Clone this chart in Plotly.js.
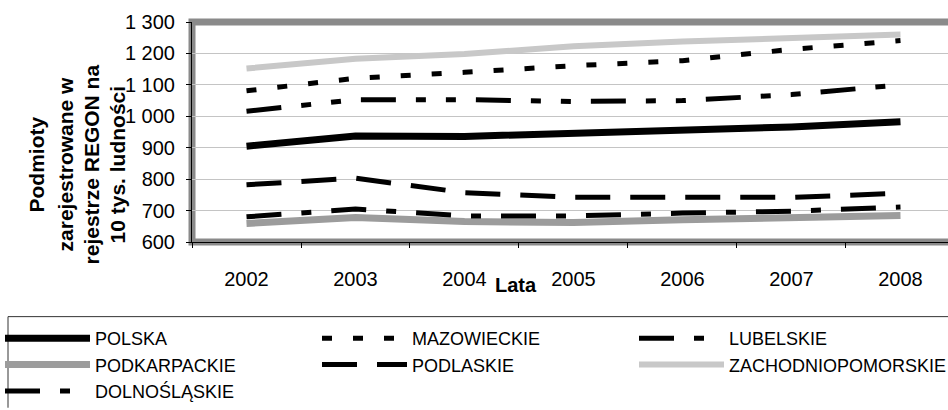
<!DOCTYPE html>
<html>
<head>
<meta charset="utf-8">
<script src="https://cdn.plot.ly/plotly-3.0.1.min.js"></script>
<style>
  html, body { margin: 0; padding: 0; background: #fff; }
  #chart { width: 948px; height: 410px; }
</style>
</head>
<body>
<div id="chart"></div>
<script>
const years = ['2002', '2003', '2004', '2005', '2006', '2007', '2008'];
const polska = [905, 937, 936, 946, 952, 966, 983];
const mazowieckie = [1081, 1121, 1140, 1161, 1177, 1213, 1241];
const lubelskie = [1016, 1053, 1053, 1047, 1050, 1069, 1100];
const podkarpackie = [659, 678, 665, 662, 671, 676, 684];
const podlaskie = [782, 803, 757, 742, 742, 742, 755];
const zachodniopomorskie = [1152, 1183, 1198, 1223, 1238, 1250, 1260];
const dolnoslaskie = [680, 705, 683, 683, 692, 698, 711];

const seriesNames = ['POLSKA', 'MAZOWIECKIE', 'LUBELSKIE', 'PODKARPACKIE', 'PODLASKIE', 'ZACHODNIOPOMORSKIE', 'DOLNOŚLĄSKIE'];
const seriesValues = [polska, mazowieckie, lubelskie, podkarpackie, podlaskie, zachodniopomorskie, dolnoslaskie];
const yTitleLines = ['Podmioty', 'zarejestrowane w', 'rejestrze REGON na', '10 tys. ludności'];
const xTitle = 'Lata';

const seriesLines = [
  {color: '#000000', width: 7, dash: 'solid'},
  {color: '#000000', width: 5, dash: '10px,21px'},
  {color: '#000000', width: 5, dash: '35px,20px,10px,20px,10px,20px'},
  {color: '#9c9c9c', width: 7, dash: 'solid'},
  {color: '#000000', width: 5, dash: '35px,20px'},
  {color: '#c8c8c8', width: 6, dash: 'solid'},
  {color: '#000000', width: 5, dash: '35px,20px,10px,20px'}
];

const traces = seriesNames.map((name, i) => ({
  type: 'scatter',
  mode: 'lines',
  name: name,
  x: years,
  y: seriesValues[i],
  line: seriesLines[i],
  hoverinfo: 'skip'
}));

const FONT = 'Liberation Sans, Arial, sans-serif';
const W = 948, H = 410;
const L = 192, T = 22, B = 249;
const plotW = W - L, plotH = B - T;
const px2x = p => (p - L) / plotW;
const px2y = p => (B - p) / plotH;

const yTitleX = [36, 65, 91, 117];
const annotations = yTitleLines.map((t, i) => ({
  text: '<b>' + t + '</b>',
  xref: 'paper', yref: 'paper', x: px2x(yTitleX[i]), y: px2y(169),
  xanchor: 'center', yanchor: 'middle', textangle: -90, showarrow: false,
  font: {family: FONT, size: 21, color: '#000000'}
}));
annotations.push({
  text: '<b>' + xTitle + '</b>', xref: 'paper', yref: 'paper', x: px2x(516), y: px2y(293),
  xanchor: 'center', yanchor: 'middle', showarrow: false,
  font: {family: FONT, size: 20, color: '#000000'}
});

const layout = {
  width: W,
  height: H,
  margin: {l: L, r: 0, t: T, b: H - B, pad: 0},
  paper_bgcolor: '#ffffff',
  plot_bgcolor: '#ffffff',
  separators: ', ',
  font: {family: FONT, color: '#000000', size: 20},
  showlegend: true,
  xaxis: {
    type: 'category',
    range: [-0.5, 6.436],
    showgrid: false,
    zeroline: false,
    showline: true,
    linecolor: '#000000',
    linewidth: 1,
    ticks: 'outside',
    tickson: 'boundaries',
    ticklen: 5,
    tickcolor: '#000000',
    tickfont: {family: FONT, size: 20, color: '#000000'},
    ticklabelstandoff: 19,
    fixedrange: true
  },
  yaxis: {
    range: [600, 1300],
    dtick: 100,
    tick0: 600,
    tickformat: ',d',
    showgrid: true,
    gridcolor: '#c4c4c4',
    gridwidth: 1,
    zeroline: false,
    showline: true,
    linecolor: '#000000',
    linewidth: 1,
    ticks: 'outside',
    ticklen: 5,
    tickcolor: '#000000',
    tickfont: {family: FONT, size: 20, color: '#000000'},
    ticklabelstandoff: 7,
    fixedrange: true
  },
  shapes: [
    {type: 'rect', xref: 'paper', yref: 'paper', x0: 0, x1: 1.05, y0: 0, y1: 1,
     line: {color: '#8a8a8a', width: 7}, layer: 'below', fillcolor: 'rgba(0,0,0,0)'},
    {type: 'line', xref: 'paper', yref: 'paper', x0: px2x(8), x1: px2x(960), y0: px2y(326), y1: px2y(326),
     line: {color: '#333333', width: 1}},
    {type: 'line', xref: 'paper', yref: 'paper', x0: px2x(8), x1: px2x(8), y0: px2y(326), y1: px2y(420),
     line: {color: '#333333', width: 1}}
  ],
  annotations: annotations,
  legend: {
    orientation: 'h',
    xref: 'paper', yref: 'paper',
    x: px2x(8), xanchor: 'left',
    y: px2y(330), yanchor: 'top',
    itemwidth: 85,
    entrywidth: 217,
    entrywidthmode: 'pixels',
    traceorder: 'normal',
    font: {family: FONT, size: 18, color: '#000000'},
    bgcolor: 'rgba(0,0,0,0)',
    borderwidth: 0
  }
};

Plotly.newPlot('chart', traces, layout, {staticPlot: true, displayModeBar: false});
</script>
</body>
</html>
